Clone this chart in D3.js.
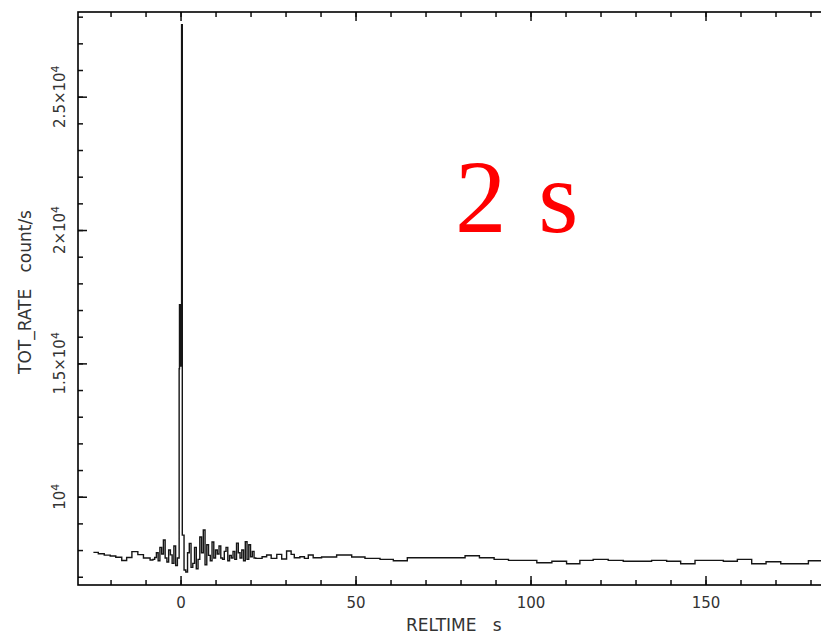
<!DOCTYPE html>
<html>
<head>
<meta charset="utf-8">
<script src="https://cdn.jsdelivr.net/npm/d3@7"></script>
<style>
  body { margin: 0; background: #fff; }
  svg { display: block; }
  .tick-label { font-family: "DejaVu Sans", sans-serif; font-size: 15px; fill: #333; }
  .axis-title { font-family: "DejaVu Sans", sans-serif; font-size: 17px; fill: #333; white-space: pre; }
</style>
</head>
<body>
<svg id="chart"></svg>
<script>
//Light curve data (bin start times in s, rates in count/s)
  //slow bins before the burst
const preTimes = [-24.9, -23.5, -21.8, -20.1, -18.5, -16.8, -15.4, -13.9, -12.2, -10.6, -8.7];
const preRates = [7915, 7860, 7810, 7775, 7730, 7610, 7720, 7940, 7830, 7700, 7630];

  //fine 0.5 s bins, -7.9 s up to the spike
const riseStart = -7.9;
const riseRates = [7650, 7720, 7900, 7600, 8100, 7850, 8380, 7700, 7550, 8000, 7820, 7500, 8150, 7420, 7700];

  //the spike itself
const spikeTimes = [-0.4, -0.3, -0.2, -0.1, 0.0, 0.1, 0.2, 0.3];
const spikeRates = [14800, 17200, 15000, 17100, 14900, 17200, 15100, 27700];

  //fine 0.5 s bins after the spike, 0.5 s to 21.5 s
const decayStart = 0.5;
const decayRates = [8560, 7250, 7180, 7900, 8250, 7350, 7500, 8100, 7300, 7650,
                    8490, 7900, 8750, 7450, 8200, 7800, 7600, 8300, 7700, 8000,
                    7850, 8150, 7700, 7650, 7950, 8100, 7600, 7800, 7700, 7950,
                    7650, 8260, 7900, 7700, 8000, 7600, 8310, 7650, 8200, 7750,
                    7950, 7700];

  //wide bins in the tail
const tailTimes = [21.5, 23.3, 24.6, 25.9, 27.5, 28.9, 30.3, 31.6, 32.5, 34.1,
                   35.4, 36.5, 37.9, 40.3, 44.6, 48.9, 52.7, 57.0, 60.8, 64.8,
                   81.3, 85.4, 89.6, 93.7, 101.8, 106.1, 110.3, 114.1, 117.9, 122.2,
                   126.5, 134.6, 138.9, 142.9, 147.0, 155.1, 159.1, 163.2, 167.3, 171.5,
                   179.4];
const tailRates = [7690, 7750, 7814, 7690, 7840, 7664, 7964, 7840, 7713, 7750,
                   7690, 7814, 7713, 7739, 7814, 7739, 7690, 7652, 7600, 7713,
                   7788, 7713, 7652, 7615, 7525, 7578, 7488, 7615, 7652, 7615,
                   7578, 7615, 7578, 7488, 7615, 7578, 7652, 7488, 7563, 7488,
                   7600];
const tailEnd = 190;

  //axis ticks
const xMajorTicks = [0, 50, 100, 150];
const yMajorTicks = [10000, 15000, 20000, 25000];
const yTickMantissa = ["", "1.5×", "2×", "2.5×"];

//Build the step points
const step = 0.5;
let bins = [];
preTimes.forEach((t, i) => bins.push({t: t, v: preRates[i]}));
riseRates.forEach((v, i) => bins.push({t: riseStart + i * step, v: v}));
spikeTimes.forEach((t, i) => bins.push({t: t, v: spikeRates[i]}));
decayRates.forEach((v, i) => bins.push({t: decayStart + i * step, v: v}));
tailTimes.forEach((t, i) => bins.push({t: t, v: tailRates[i]}));
bins.push({t: tailEnd, v: tailRates[tailRates.length - 1]});

//Chart
const w = 821;
const h = 634;
const plotLeft = 78, plotRight = 828, plotTop = 12, plotBottom = 585;

const xScale = d3.scaleLinear()
                 .domain([-29.3, 185])
                 .range([plotLeft, plotRight]);
const yScale = d3.scaleLinear()
                 .domain([6690, 28175])
                 .range([plotBottom, plotTop]);

const chart = d3.select("#chart")
  .attr("width", w)
  .attr("height", h);

//Curve
const line = d3.line()
  .x((d) => xScale(d.t))
  .y((d) => yScale(d.v))
  .curve(d3.curveStepAfter);

chart.append("path")
     .datum(bins)
     .attr("d", line)
     .attr("fill", "none")
     .attr("stroke", "#151515")
     .attr("stroke-width", 1.4);

//Axes (ticks point inward)
const xMinor = d3.range(-20, 190, 10);
const yMinor = d3.range(7000, 29000, 1000);

function addAxis(axis, transform, cls){
  const g = chart.append("g")
    .attr("transform", transform)
    .call(axis);
  g.select(".domain").remove();
  g.selectAll("line").attr("stroke", "#111").attr("stroke-width", 1.5);
  g.selectAll("text").attr("class", cls).attr("font-size", null).attr("font-family", null).attr("fill", null);
  return g;
}

//bottom
addAxis(d3.axisBottom(xScale).tickValues(xMinor).tickSize(-5).tickFormat(""), `translate(0,${plotBottom})`);
addAxis(d3.axisBottom(xScale).tickValues(xMajorTicks).tickSize(-9).tickPadding(12).tickFormat(d3.format("d")), `translate(0,${plotBottom})`, "tick-label");
//top
addAxis(d3.axisTop(xScale).tickValues(xMinor).tickSize(-5).tickFormat(""), `translate(0,${plotTop})`);
addAxis(d3.axisTop(xScale).tickValues(xMajorTicks).tickSize(-9).tickFormat(""), `translate(0,${plotTop})`);
//left
addAxis(d3.axisLeft(yScale).tickValues(yMinor).tickSize(-5).tickFormat(""), `translate(${plotLeft},0)`);
addAxis(d3.axisLeft(yScale).tickValues(yMajorTicks).tickSize(-9).tickFormat(""), `translate(${plotLeft},0)`);

//frame
chart.append("rect")
     .attr("x", plotLeft)
     .attr("y", plotTop)
     .attr("width", plotRight - plotLeft)
     .attr("height", plotBottom - plotTop)
     .attr("fill", "none")
     .attr("stroke", "#000")
     .attr("stroke-width", 1.6);

//rotated y tick labels with superscript exponent
yMajorTicks.forEach((v, i) => {
  const label = chart.append("text")
    .attr("class", "tick-label")
    .attr("transform", `translate(65, ${yScale(v)}) rotate(-90)`)
    .attr("text-anchor", "middle");
  label.append("tspan").text(yTickMantissa[i] + "10");
  label.append("tspan").attr("dy", "-0.55em").attr("font-size", "11px").text("4");
});

//Labels
chart.append("text")
     .attr("class", "axis-title")
     .attr("x", 406)
     .attr("y", 631)
     .text("RELTIME   s");

chart.append("text")
     .attr("class", "axis-title")
     .attr("transform", "translate(31, 292) rotate(-90)")
     .attr("text-anchor", "middle")
     .text("TOT_RATE   count/s");

chart.append("text")
     .attr("x", 455)
     .attr("y", 232)
     .attr("fill", "#ff0000")
     .attr("font-family", "'Liberation Serif', 'Times New Roman', serif")
     .attr("font-size", "103px")
     .attr("word-spacing", "6px")
     .text("2 s");
</script>
</body>
</html>
